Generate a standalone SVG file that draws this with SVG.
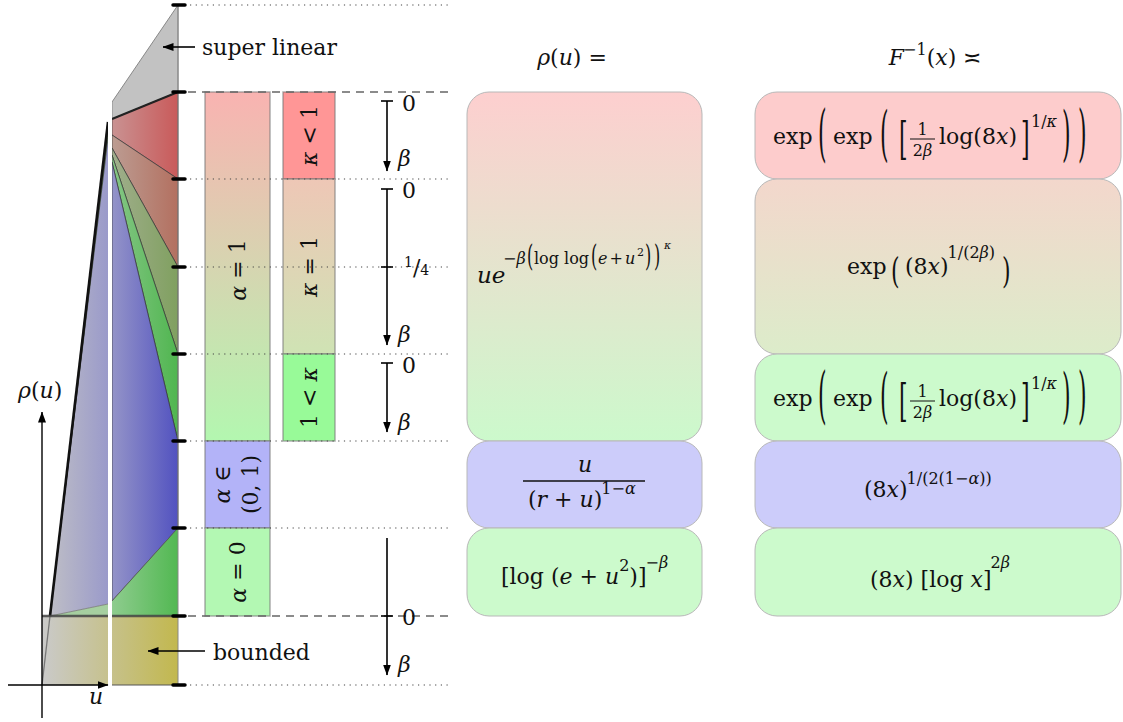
<svg xmlns="http://www.w3.org/2000/svg" width="1123" height="722" viewBox="0 0 1123 722" font-family="DejaVu Serif, serif">
<style>
.m{font-family:"DejaVu Serif",serif;font-size:22px;fill:#111}
.i{font-style:italic}
.s{font-size:16px}
.ss{font-size:11px}
.ax{stroke:#000;stroke-width:1.4;fill:none}
.tk{stroke:#000;stroke-width:3.5;stroke-linecap:round}
.dot{stroke:#444;stroke-width:1.1;stroke-dasharray:1.2 4.5;fill:none}
.dash{stroke:#666;stroke-width:1.4;stroke-dasharray:8 6;fill:none}
.bar{stroke:#777;stroke-opacity:.6;stroke-width:1.5}
.box{stroke:#b8b8b8;stroke-width:1}
.fan{stroke:#333;stroke-width:.7;fill:none}
.arr{stroke:#000;stroke-width:1.6;fill:none}
</style>
<defs>
<marker id="ah" markerUnits="userSpaceOnUse" markerWidth="11" markerHeight="8" viewBox="0 0 11 8" refX="10.5" refY="4" orient="auto"><path d="M0,0 L11,4 L0,8 z" fill="#000"/></marker>
<linearGradient id="gOlive" gradientUnits="userSpaceOnUse" x1="42" y1="0" x2="178" y2="0"><stop offset="0" stop-color="#cacaca"/><stop offset="1" stop-color="#c2b84e"/></linearGradient>
<linearGradient id="gRed" gradientUnits="userSpaceOnUse" x1="112" y1="0" x2="178" y2="0"><stop offset="0" stop-color="#c99292"/><stop offset="1" stop-color="#c95a5a"/></linearGradient>
<linearGradient id="gBrown" gradientUnits="userSpaceOnUse" x1="112" y1="0" x2="178" y2="0"><stop offset="0" stop-color="#bc9c92"/><stop offset="1" stop-color="#b37060"/></linearGradient>
<linearGradient id="gOl2" gradientUnits="userSpaceOnUse" x1="112" y1="0" x2="178" y2="0"><stop offset="0" stop-color="#a0ae8c"/><stop offset="1" stop-color="#80a060"/></linearGradient>
<linearGradient id="gGreen" gradientUnits="userSpaceOnUse" x1="112" y1="0" x2="178" y2="0"><stop offset="0" stop-color="#86c686"/><stop offset="1" stop-color="#50b650"/></linearGradient>
<linearGradient id="gBlue" gradientUnits="userSpaceOnUse" x1="112" y1="0" x2="178" y2="0"><stop offset="0" stop-color="#9494c8"/><stop offset="1" stop-color="#5252c0"/></linearGradient>
<linearGradient id="gGreen2" gradientUnits="userSpaceOnUse" x1="112" y1="0" x2="178" y2="0"><stop offset="0" stop-color="#8ecc8e"/><stop offset="1" stop-color="#52b852"/></linearGradient>
<linearGradient id="gLeft" gradientUnits="userSpaceOnUse" x1="50" y1="0" x2="108" y2="0"><stop offset="0" stop-color="#bebec6"/><stop offset="1" stop-color="#9a9aca"/></linearGradient>
<linearGradient id="gBar1" gradientUnits="userSpaceOnUse" x1="0" y1="92" x2="0" y2="441"><stop offset="0" stop-color="#f9b3b1"/><stop offset="1" stop-color="#b3f7b0"/></linearGradient>
<linearGradient id="gBar2" gradientUnits="userSpaceOnUse" x1="0" y1="179" x2="0" y2="354"><stop offset="0" stop-color="#eec7b6"/><stop offset="1" stop-color="#cfe3b4"/></linearGradient>
<linearGradient id="gBox1" gradientUnits="userSpaceOnUse" x1="0" y1="92" x2="0" y2="441"><stop offset="0" stop-color="#fdcfcf"/><stop offset="1" stop-color="#ccf9cc"/></linearGradient>
<linearGradient id="gBox2" gradientUnits="userSpaceOnUse" x1="0" y1="179" x2="0" y2="354"><stop offset="0" stop-color="#f3d7cc"/><stop offset="1" stop-color="#dcecca"/></linearGradient>
</defs>
<rect width="1123" height="722" fill="#fff"/>

<g id="plot">
<rect x="42" y="616" width="136" height="69" fill="url(#gOlive)"/>
<polygon points="50,616 108,138 108,604" fill="url(#gLeft)"/>
<polygon points="50,616 108,604 108,616" fill="#a6cfa0"/>
<polygon points="50,616 108,122 108,127" fill="#b05a5a"/>
<polygon points="50,616 108,127 108,132" fill="#8ca070"/>
<polygon points="50,616 108,132 108,138" fill="#5cb05c"/>
<line class="fan" x1="50" y1="616" x2="108" y2="127"/>
<line class="fan" x1="50" y1="616" x2="108" y2="132"/>
<line class="fan" x1="50" y1="616" x2="108" y2="138"/>
<line x1="50" y1="616" x2="108" y2="604" stroke="#777" stroke-width=".8"/>
<line x1="50" y1="616" x2="108" y2="122" stroke="#111" stroke-width="2.6"/>
<line x1="42" y1="685" x2="50" y2="616" stroke="#777" stroke-width="1.3"/>
<polygon points="112,102 178,5 178,92 112,119" fill="#c2c2c2" stroke="#888" stroke-width="1"/>
<g stroke="#333" stroke-width=".7">
<polygon points="112,119 178,92 178,179 112,135" fill="url(#gRed)"/>
<polygon points="112,135 178,179 178,267 112,148" fill="url(#gBrown)"/>
<polygon points="112,148 178,267 178,354 112,155" fill="url(#gOl2)"/>
<polygon points="112,155 178,354 178,441 112,162" fill="url(#gGreen)"/>
<polygon points="112,162 178,441 178,528 112,601" fill="url(#gBlue)"/>
</g>
<polygon points="112,601 178,528 178,616 112,616" fill="url(#gGreen2)"/>
<line x1="112" y1="601" x2="178" y2="528" stroke="#555" stroke-width=".8"/>
<line x1="112" y1="119" x2="178" y2="92" stroke="#222" stroke-width="2.2"/>
<line x1="42" y1="616" x2="178" y2="616" stroke="#444" stroke-width="2.4" stroke-opacity=".85"/>
<line x1="112" y1="685" x2="178" y2="685" stroke="#555" stroke-width="1.2"/>
<line x1="178" y1="5" x2="178" y2="685" stroke="#888" stroke-width="1"/>
<rect x="108" y="98" width="4" height="592" fill="#fff"/>
<g class="tk">
<line x1="173" y1="5" x2="185" y2="5"/><line x1="173" y1="92" x2="185" y2="92"/><line x1="173" y1="179" x2="185" y2="179"/>
<line x1="173" y1="267" x2="185" y2="267"/><line x1="173" y1="354" x2="185" y2="354"/><line x1="173" y1="441" x2="185" y2="441"/>
<line x1="173" y1="528" x2="185" y2="528"/><line x1="173" y1="616" x2="185" y2="616"/><line x1="173" y1="685" x2="185" y2="685"/>
</g>
<text class="m" x="18" y="398"><tspan class="i">ρ</tspan>(<tspan class="i">u</tspan>)</text>
<text class="m i" x="89" y="704">u</text>
<text class="m" x="202" y="55">super linear</text>
<text class="m" x="213" y="660">bounded</text>
</g>

<g id="bars">
<g id="bar-alpha1"><rect class="bar" x="205" y="92" width="65" height="349" fill="url(#gBar1)"/>
<text class="m" x="237.5" y="270" text-anchor="middle" dominant-baseline="central" transform="rotate(-90 237.5 270)"><tspan class="i">α</tspan> = 1</text></g>
<g id="bar-alpha01"><rect class="bar" x="205" y="441" width="65" height="87" fill="#b3b3f8"/>
<text class="m" x="222" y="484.5" text-anchor="middle" dominant-baseline="central" transform="rotate(-90 222 484.5)"><tspan class="i">α</tspan> ∈</text>
<text class="m" x="250" y="484.5" text-anchor="middle" dominant-baseline="central" transform="rotate(-90 250 484.5)">(0, 1)</text></g>
<g id="bar-alpha0"><rect class="bar" x="205" y="528" width="65" height="88" fill="#b3f8b3"/>
<text class="m" x="237.5" y="572" text-anchor="middle" dominant-baseline="central" transform="rotate(-90 237.5 572)"><tspan class="i">α</tspan> = 0</text></g>
<g id="bar-klt1"><rect class="bar" x="283" y="92" width="52" height="87" fill="#ff9696"/>
<text class="m" x="309" y="135.5" text-anchor="middle" dominant-baseline="central" transform="rotate(-90 309 135.5)"><tspan class="i">κ</tspan> &lt; 1</text></g>
<g id="bar-keq1"><rect class="bar" x="283" y="179" width="52" height="175" fill="url(#gBar2)"/>
<text class="m" x="309" y="266.5" text-anchor="middle" dominant-baseline="central" transform="rotate(-90 309 266.5)"><tspan class="i">κ</tspan> = 1</text></g>
<g id="bar-kgt1"><rect class="bar" x="283" y="354" width="52" height="87" fill="#98fa98"/>
<text class="m" x="309" y="397.5" text-anchor="middle" dominant-baseline="central" transform="rotate(-90 309 397.5)">1 &lt; <tspan class="i">κ</tspan></text></g>
</g>

<g id="guides">
<line class="dot" x1="190" y1="5" x2="450" y2="5"/>
<line class="dash" x1="188" y1="92" x2="452" y2="92"/>
<line class="dot" x1="190" y1="179" x2="450" y2="179"/>
<line class="dot" x1="190" y1="267" x2="450" y2="267"/>
<line class="dot" x1="190" y1="354" x2="450" y2="354"/>
<line class="dot" x1="190" y1="441" x2="450" y2="441"/>
<line class="dot" x1="190" y1="528" x2="450" y2="528"/>
<line class="dash" x1="188" y1="616" x2="452" y2="616"/>
<line class="dot" x1="190" y1="685" x2="450" y2="685"/>
</g>

<g id="connectors">
<line class="ax" x1="42" y1="718" x2="42" y2="412" marker-end="url(#ah)"/>
<line class="ax" x1="8" y1="685" x2="108" y2="685" marker-end="url(#ah)"/>
<line class="arr" x1="195" y1="47" x2="163" y2="47" marker-end="url(#ah)"/>
<line class="arr" x1="205" y1="651" x2="148" y2="651" marker-end="url(#ah)"/>
<line class="arr" x1="387" y1="101" x2="387" y2="171" marker-end="url(#ah)"/>
<line class="arr" x1="381" y1="101" x2="393" y2="101"/>
<line class="arr" x1="387" y1="189" x2="387" y2="345" marker-end="url(#ah)"/>
<line class="arr" x1="381" y1="189" x2="393" y2="189"/>
<line class="arr" x1="381" y1="267" x2="393" y2="267"/>
<line class="arr" x1="387" y1="363" x2="387" y2="432" marker-end="url(#ah)"/>
<line class="arr" x1="381" y1="363" x2="393" y2="363"/>
<line class="arr" x1="387" y1="538" x2="387" y2="675" marker-end="url(#ah)"/>
<line class="arr" x1="381" y1="616" x2="393" y2="616"/>
</g>

<g id="scale-labels">
<text class="m" x="402" y="111">0</text>
<text class="m i" x="398" y="166">β</text>
<text class="m" x="402" y="198">0</text>
<text class="m" x="404" y="275"><tspan style="font-size:14px" dy="-8">1</tspan><tspan dy="8">/</tspan><tspan style="font-size:14px">4</tspan></text>
<text class="m i" x="398" y="342">β</text>
<text class="m" x="402" y="373">0</text>
<text class="m i" x="398" y="430">β</text>
<text class="m" x="402" y="625">0</text>
<text class="m i" x="398" y="672">β</text>
</g>

<g id="headers">
<text class="m" x="572" y="65" text-anchor="middle"><tspan class="i">ρ</tspan>(<tspan class="i">u</tspan>) =</text>
<text class="m" x="935" y="65" text-anchor="middle"><tspan class="i">F</tspan><tspan class="s" dx="-1" dy="-10">−1</tspan><tspan dy="10">(</tspan><tspan class="i">x</tspan>) ≍</text>
</g>

<g id="rho-kappa">
<rect class="box" x="467" y="92" width="235" height="349" rx="22" fill="url(#gBox1)"/>
<text class="m i" x="477" y="283" style="font-size:23px">ue</text>
<text class="m s" x="503" y="264">−<tspan class="i">β</tspan></text>
<text class="m s" transform="translate(527 266) scale(1 1.9)">(</text>
<text class="m s" x="534" y="264">log log</text>
<text class="m s" transform="translate(591 266) scale(1 1.9)">(</text>
<text class="m s" x="598" y="264"><tspan class="i">e</tspan><tspan dx="2">+</tspan><tspan class="i" dx="2">u</tspan></text>
<text class="m ss" x="637" y="256">2</text>
<text class="m s" transform="translate(645 266) scale(1 1.9)">)</text>
<text class="m s" transform="translate(654 266) scale(1 1.9)">)</text>
<text class="m ss i" x="664" y="249">κ</text>
</g>

<g id="rho-alpha">
<rect class="box" x="467" y="441" width="235" height="87" rx="22" fill="#ccccfa"/>
<text class="m i" x="585" y="472" text-anchor="middle">u</text>
<line x1="523" y1="481" x2="645" y2="481" stroke="#111" stroke-width="1.3"/>
<text class="m" x="528" y="507">(<tspan class="i">r</tspan> + <tspan class="i">u</tspan>)<tspan class="s" dx="-1" dy="-13">1−<tspan class="i">α</tspan></tspan></text>
</g>

<g id="rho-bounded">
<rect class="box" x="467" y="528" width="235" height="88" rx="22" fill="#ccfacc"/>
<text class="m" x="501" y="584">[log (<tspan class="i">e</tspan> + <tspan class="i">u</tspan><tspan class="s" dy="-13">2</tspan><tspan dy="13">)]</tspan><tspan class="s" dx="-1" dy="-16">−<tspan class="i">β</tspan></tspan></text>
</g>

<g id="F-klt1">
<rect class="box" x="755" y="92" width="366" height="87" rx="22" fill="#fdcccc"/>
<text class="m" x="773" y="144">exp</text>
<text class="m" transform="translate(818 154) scale(1 2.8)">(</text>
<text class="m" x="833" y="144">exp</text>
<text class="m" transform="translate(880 153.5) scale(1 2.7)">(</text>
<text class="m" transform="translate(899 153.8) scale(1 2)">[</text>
<text class="m s" x="922.5" y="135" text-anchor="middle">1</text>
<line x1="910" y1="139" x2="935" y2="139" stroke="#111" stroke-width="1"/>
<text class="m s" x="922.5" y="156" text-anchor="middle">2<tspan class="i">β</tspan></text>
<text class="m" x="939" y="144">log(8<tspan class="i">x</tspan>)</text>
<text class="m" transform="translate(1021 153.8) scale(1 2)">]</text>
<text class="m s" x="1031" y="127">1/<tspan class="i">κ</tspan></text>
<text class="m" transform="translate(1062 153.5) scale(1 2.7)">)</text>
<text class="m" transform="translate(1078 154) scale(1 2.8)">)</text>
</g>

<g id="F-keq1">
<rect class="box" x="755" y="179" width="366" height="175" rx="22" fill="url(#gBox2)"/>
<text class="m" x="847" y="274">exp</text>
<text class="m" transform="translate(891 283) scale(1 1.65)">(</text>
<text class="m" x="905" y="274">(8<tspan class="i">x</tspan>)<tspan class="s" dx="-1" dy="-16">1/(2<tspan class="i">β</tspan>)</tspan></text>
<text class="m" transform="translate(1002 283) scale(1 1.65)">)</text>
</g>

<g id="F-kgt1">
<rect class="box" x="755" y="354" width="366" height="87" rx="22" fill="#ccfacc"/>
<text class="m" x="773" y="406">exp</text>
<text class="m" transform="translate(818 416) scale(1 2.8)">(</text>
<text class="m" x="833" y="406">exp</text>
<text class="m" transform="translate(880 415.5) scale(1 2.7)">(</text>
<text class="m" transform="translate(899 415.8) scale(1 2)">[</text>
<text class="m s" x="922.5" y="397" text-anchor="middle">1</text>
<line x1="910" y1="401" x2="935" y2="401" stroke="#111" stroke-width="1"/>
<text class="m s" x="922.5" y="418" text-anchor="middle">2<tspan class="i">β</tspan></text>
<text class="m" x="939" y="406">log(8<tspan class="i">x</tspan>)</text>
<text class="m" transform="translate(1021 415.8) scale(1 2)">]</text>
<text class="m s" x="1031" y="389">1/<tspan class="i">κ</tspan></text>
<text class="m" transform="translate(1062 415.5) scale(1 2.7)">)</text>
<text class="m" transform="translate(1078 416) scale(1 2.8)">)</text>
</g>

<g id="F-alpha">
<rect class="box" x="755" y="441" width="366" height="87" rx="22" fill="#ccccfa"/>
<text class="m" x="864" y="497">(8<tspan class="i">x</tspan>)<tspan class="s" dx="-1" dy="-13">1/(2(1−<tspan class="i">α</tspan>))</tspan></text>
</g>

<g id="F-bounded">
<rect class="box" x="755" y="528" width="366" height="88" rx="22" fill="#ccfacc"/>
<text class="m" x="870" y="587">(8<tspan class="i">x</tspan>) [log <tspan class="i">x</tspan>]<tspan class="s" dx="-1" dy="-19">2<tspan class="i">β</tspan></tspan></text>
</g>
</svg>
